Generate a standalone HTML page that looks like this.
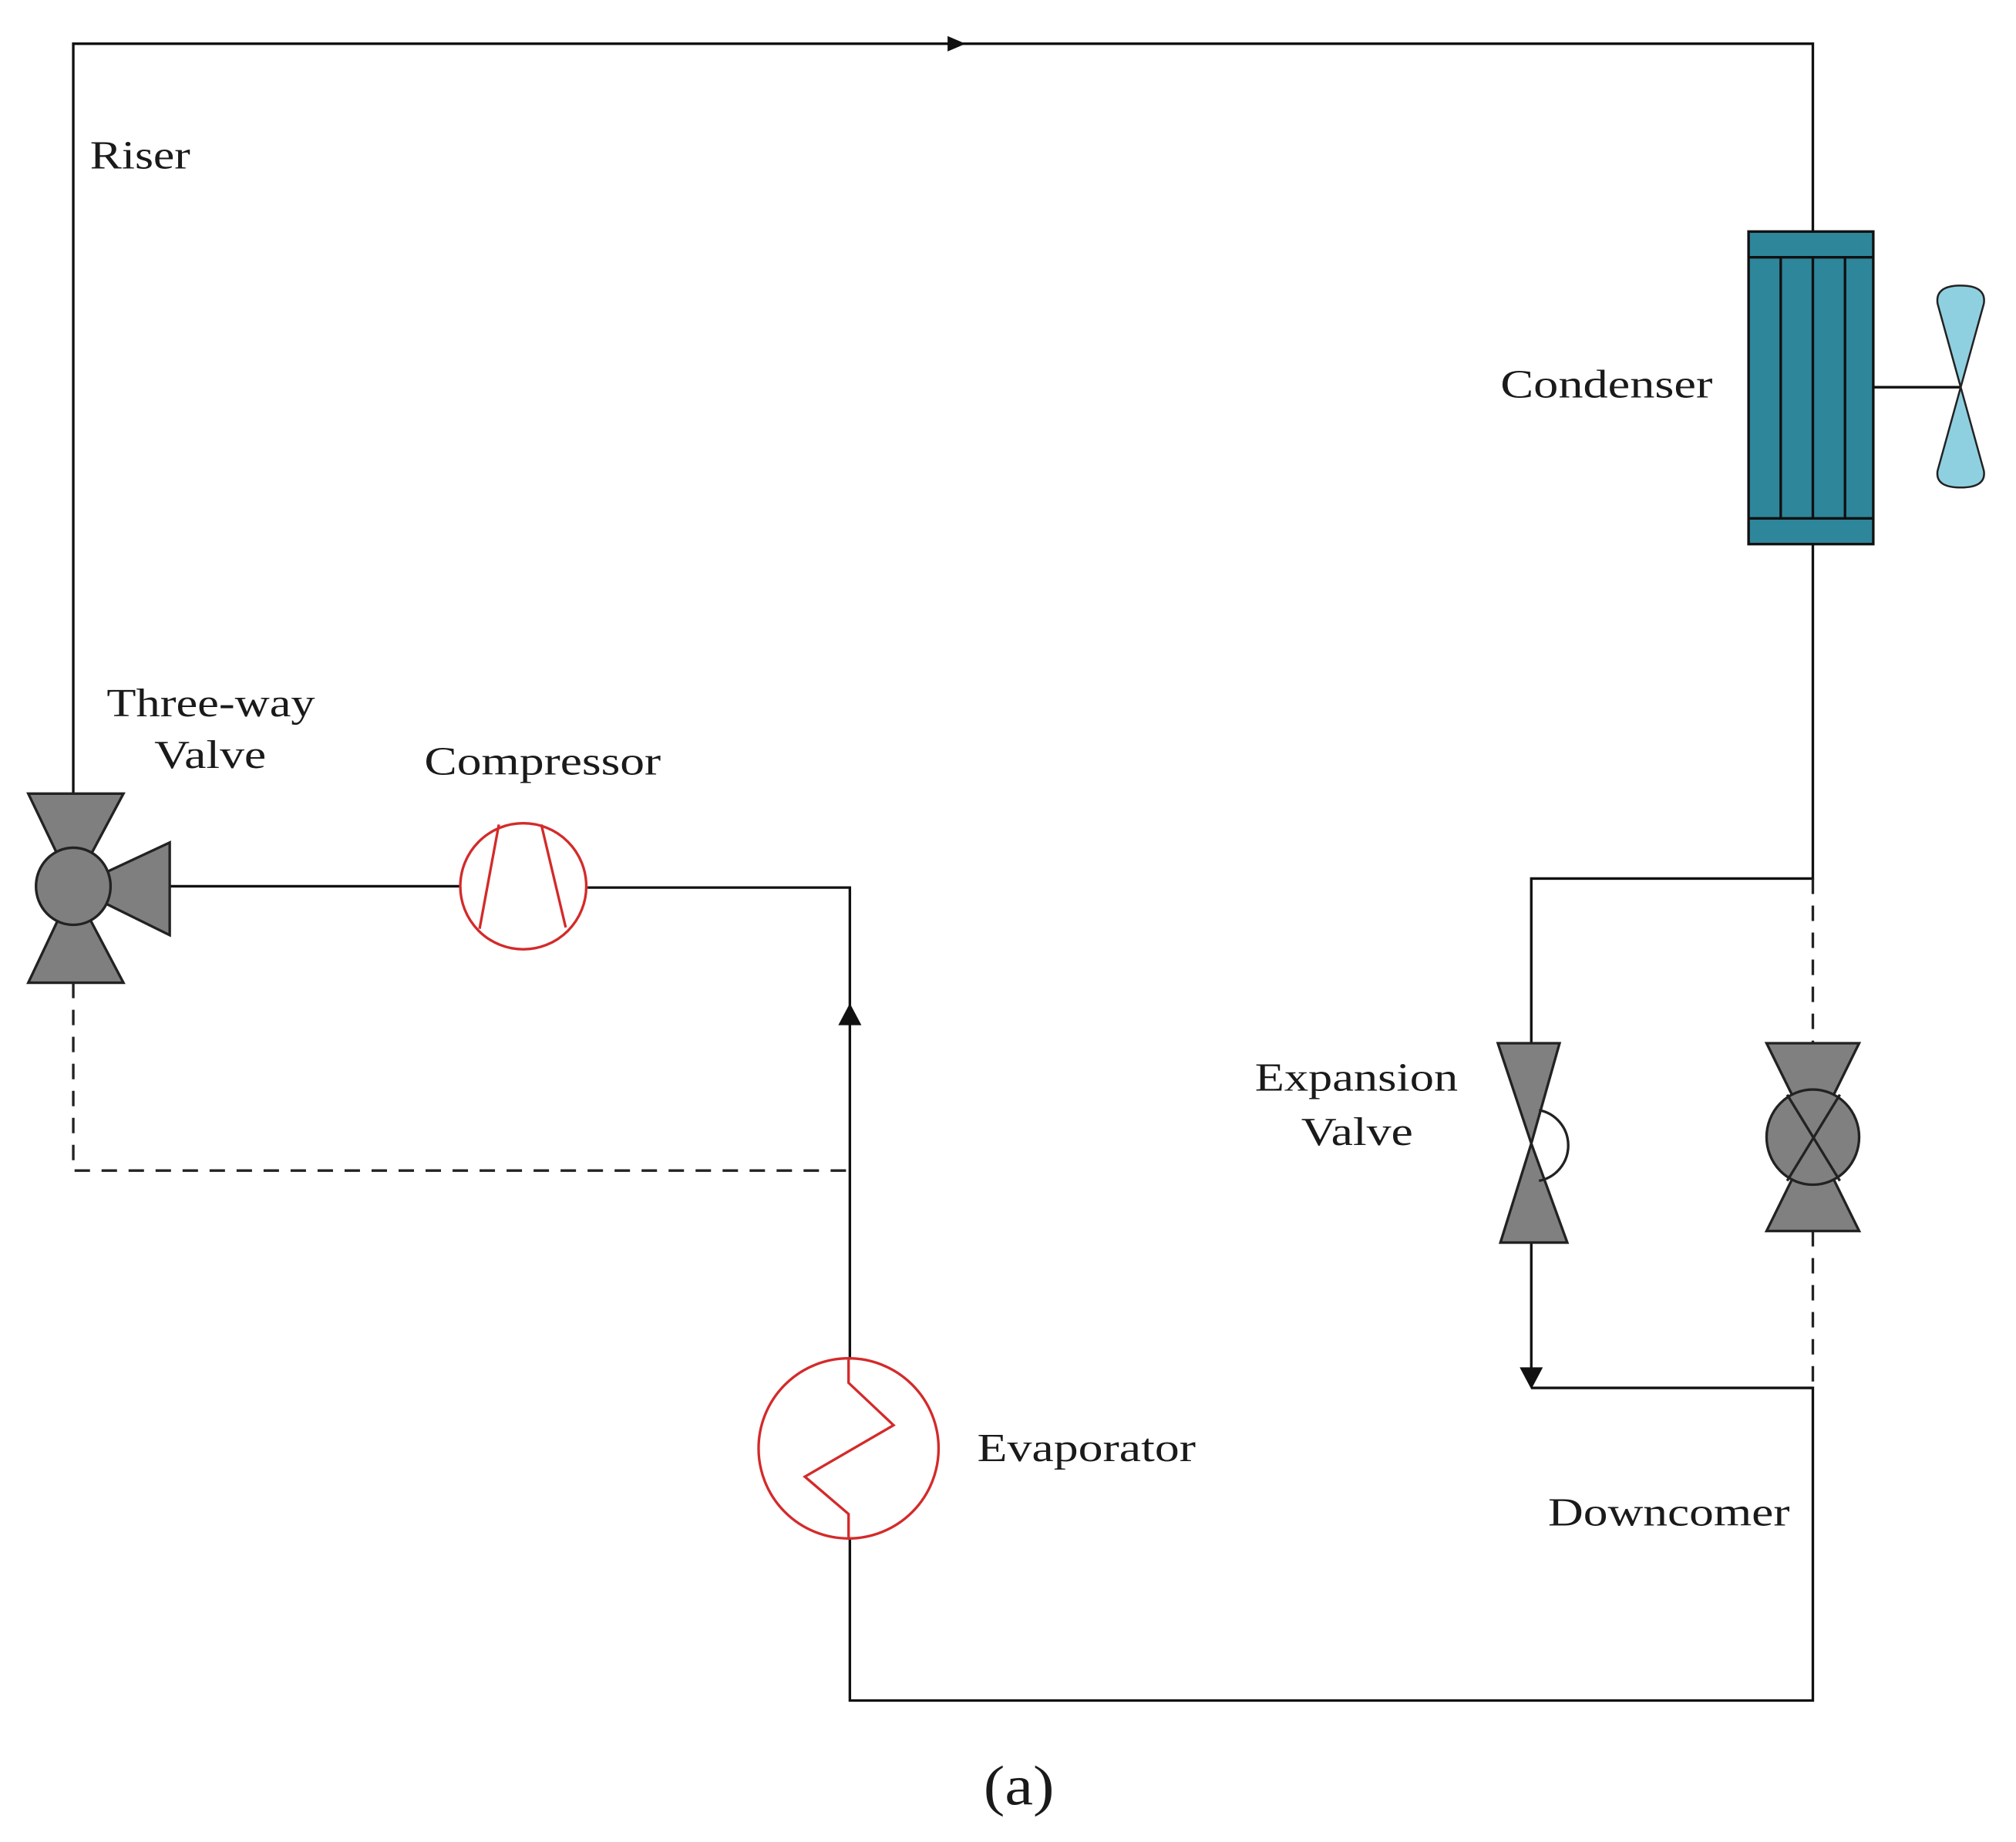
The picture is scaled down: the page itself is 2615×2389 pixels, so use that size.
<!DOCTYPE html>
<html><head><meta charset="utf-8"><style>html,body{margin:0;padding:0;background:#fff}svg{display:block}text{font-family:"Liberation Serif",serif;fill:#1a1a1a}</style></head>
<body>
<svg width="2615" height="2389" viewBox="0 0 1568 1432" preserveAspectRatio="none" xmlns="http://www.w3.org/2000/svg">
<g fill="none" stroke="#111" stroke-width="2">
<path d="M57,617 V34 H1410 V180"/>
<path d="M1410,423 V683 H1191 V811"/>
<path d="M1191,966 V1070"/>
<path d="M1191,1079 H1410 V1322 H661 V1195"/>
<path d="M661,1057 V690 H457"/>
<path d="M358,689 H132"/>
<path d="M1457,301 H1525"/>
</g>
<g fill="none" stroke="#222" stroke-width="2" stroke-dasharray="12,9">
<path d="M57,764 V910 H661"/>
<path d="M1410,683 V811"/>
<path d="M1410,957 V1079"/>
</g>
<polygon points="737,28 751,34 737,40" fill="#111"/>
<polygon points="652,797 661,780 670,797" fill="#111"/>
<polygon points="1182,1063 1200,1063 1191,1080" fill="#111"/>
<g stroke="#111" stroke-width="2" fill="#2e869b">
<rect x="1360" y="180" width="97" height="243"/>
<line x1="1360" y1="200" x2="1457" y2="200"/>
<line x1="1360" y1="403" x2="1457" y2="403"/>
<line x1="1385" y1="200" x2="1385" y2="403"/>
<line x1="1410" y1="200" x2="1410" y2="403"/>
<line x1="1435" y1="200" x2="1435" y2="403"/>
</g>
<g stroke="#222" stroke-width="1.5" fill="#8fd0e0">
<path d="M1525,301 L1507,236 Q1505,222 1525,222 Q1545,222 1543,236 Z"/>
<path d="M1525,301 L1507,366 Q1505,379 1525,379 Q1545,379 1543,366 Z"/>
</g>
<g stroke="#222" stroke-width="2" fill="#7f7f7f">
<polygon points="22,617 96,617 57,690"/>
<polygon points="22,764 96,764 57,690"/>
<polygon points="132,655 132,727 57,690"/>
<ellipse cx="57" cy="689" rx="29" ry="30"/>
</g>
<g stroke="#d42a2a" stroke-width="2" fill="none">
<ellipse cx="407" cy="689" rx="49" ry="49"/>
<line x1="388" y1="641" x2="373" y2="722"/>
<line x1="421" y1="641" x2="440" y2="721"/>
<circle cx="660" cy="1126" r="70"/>
<polyline points="660,1057 660,1075 695,1108 626,1148 660,1177 660,1195"/>
</g>
<g stroke="#222" stroke-width="2" fill="#808080">
<polygon points="1165,811 1213,811 1191,889"/>
<polygon points="1167,966 1219,966 1191,889"/>
</g>
<path d="M1197,863 A28,28 0 0 1 1197,918" fill="none" stroke="#222" stroke-width="2"/>
<g stroke="#222" stroke-width="2" fill="#808080">
<polygon points="1374,811 1446,811 1410,884"/>
<polygon points="1374,957 1446,957 1410,884"/>
<ellipse cx="1410" cy="884" rx="36" ry="37"/>
<line x1="1390" y1="851" x2="1431" y2="918" fill="none"/>
<line x1="1431" y1="851" x2="1390" y2="918" fill="none"/>
</g>
<g font-size="31">
<text x="70" y="131" textLength="78" lengthAdjust="spacingAndGlyphs">Riser</text>
<text x="83" y="557" textLength="162" lengthAdjust="spacingAndGlyphs">Three-way</text>
<text x="120" y="597" textLength="87" lengthAdjust="spacingAndGlyphs">Valve</text>
<text x="330" y="602" textLength="184" lengthAdjust="spacingAndGlyphs">Compressor</text>
<text x="1167" y="309" textLength="165" lengthAdjust="spacingAndGlyphs">Condenser</text>
<text x="976" y="848" textLength="158" lengthAdjust="spacingAndGlyphs">Expansion</text>
<text x="1012" y="890" textLength="87" lengthAdjust="spacingAndGlyphs">Valve</text>
<text x="760" y="1136" textLength="170" lengthAdjust="spacingAndGlyphs">Evaporator</text>
<text x="1204" y="1186" textLength="188" lengthAdjust="spacingAndGlyphs">Downcomer</text>
</g>
<text x="765" y="1403" font-size="44" textLength="55" lengthAdjust="spacingAndGlyphs">(a)</text>
</svg>
</body></html>
